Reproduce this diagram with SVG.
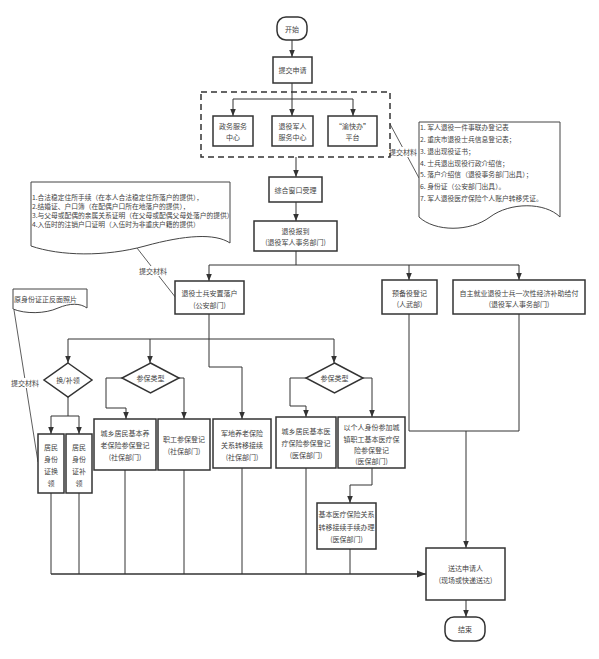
<svg xmlns="http://www.w3.org/2000/svg" width="599" height="659" viewBox="0 0 599 659">
<style>
.bx{fill:#fff;stroke:#333;stroke-width:1.5}
.dc{fill:#fff;stroke:#444;stroke-width:1}
.t{font-family:"Noto Sans CJK SC","Liberation Sans",sans-serif;font-size:7px;fill:#444;text-anchor:middle;dominant-baseline:central}
.ts{font-family:"Noto Sans CJK SC","Liberation Sans",sans-serif;font-size:6.8px;fill:#444;text-anchor:start;dominant-baseline:central}
.tl{font-size:6.75px}
.ln{fill:none;stroke:#333;stroke-width:1}
.lw{fill:none;stroke:#333;stroke-width:1.6}
.an{fill:none;stroke:#333;stroke-width:0.8}
</style>
<defs>
<marker id="a" viewBox="0 0 10 10" refX="10" refY="5" markerWidth="7" markerHeight="7" markerUnits="userSpaceOnUse" orient="auto"><path d="M0,1 L10,5 L0,9 z" fill="#333"/></marker>
<marker id="b" viewBox="0 0 10 10" refX="10" refY="5" markerWidth="9" markerHeight="9" markerUnits="userSpaceOnUse" orient="auto"><path d="M0,1 L10,5 L0,9 z" fill="#333"/></marker>
</defs>

<g id="connectors">
<path class="ln" d="M292,40 V57" marker-end="url(#a)"/>
<path class="ln" d="M292,83 V116" marker-end="url(#a)"/>
<path class="ln" d="M292,99 H233 V116" marker-end="url(#a)"/>
<path class="ln" d="M292,99 H353 V116" marker-end="url(#a)"/>
<path class="ln" d="M296,157 V177" marker-end="url(#a)"/>
<path class="ln" d="M296,202 V221" marker-end="url(#a)"/>
<path class="ln" d="M296,251 V265 H209 V281" marker-end="url(#a)"/>
<path class="ln" d="M296,265 H409 V280" marker-end="url(#a)"/>
<path class="ln" d="M409,265 H519 V280" marker-end="url(#a)"/>
<path class="ln" d="M209,314 V339 H68 V363" marker-end="url(#a)"/>
<path class="ln" d="M150,339 V363" marker-end="url(#a)"/>
<path class="ln" d="M209,339 H334 V363" marker-end="url(#a)"/>
<path class="ln" d="M209,339 V367 H242 V419" marker-end="url(#a)"/>
<path class="ln" d="M68,397 V416 H51 V434" marker-end="url(#a)"/>
<path class="ln" d="M68,416 H79 V434" marker-end="url(#a)"/>
<path class="ln" d="M122,378 H106 V408 H126 V419" marker-end="url(#a)"/>
<path class="ln" d="M179,378 H184 V419" marker-end="url(#a)"/>
<path class="ln" d="M306,378 H290 V406 H306 V417" marker-end="url(#a)"/>
<path class="ln" d="M363,378 H372 V417" marker-end="url(#a)"/>
<path class="ln" d="M372,468 V485 H350 V503" marker-end="url(#a)"/>
<path class="ln" d="M409,314 V431 H519 V314"/>
<path class="ln" d="M466,431 V548" marker-end="url(#a)"/>
<path class="ln" d="M51,493 V574 M79,493 V574 M125,470 V574 M184,470 V574 M242,468 V574 M306,468 V574 M350,549 V574"/>
<path class="lw" d="M51,574 H426" marker-end="url(#b)"/>
<path class="ln" d="M466,600 V617" marker-end="url(#a)"/>
<path class="an" d="M390,124 L419,178"/>
<path class="an" d="M137,248 L176,298"/>
<path class="an" d="M14,310 L38,462"/>
<rect x="389" y="147" width="29" height="10" fill="#fff"/>
<text class="t" x="403" y="152">提交材料</text>
<rect x="139" y="266" width="29" height="10" fill="#fff"/>
<text class="t" x="153" y="271">提交材料</text>
<rect x="11" y="378" width="29" height="10" fill="#fff"/>
<text class="t" x="25" y="383">提交材料</text>
</g>

<g id="start"><rect class="bx" x="277" y="17" width="30" height="23" rx="9"/><text class="t" x="292" y="28.5">开始</text></g>
<g id="submit"><rect class="bx" x="273" y="57" width="39" height="26"/><text class="t" x="292.5" y="70">提交申请</text></g>
<g id="channels"><rect x="201" y="92" width="189" height="65" fill="none" stroke="#333" stroke-width="1.5" stroke-dasharray="6,4"/></g>
<g id="gov"><rect class="bx" x="213" y="116" width="40" height="30"/><text class="t" x="233" y="126">政务服务</text><text class="t" x="233" y="137">中心</text></g>
<g id="vet"><rect class="bx" x="272" y="116" width="41" height="30"/><text class="t" x="292.5" y="126">退役军人</text><text class="t" x="292.5" y="137">服务中心</text></g>
<g id="ykb"><rect class="bx" x="328" y="116" width="49" height="30"/><text class="t" x="352.5" y="126">“渝快办”</text><text class="t" x="352.5" y="137">平台</text></g>
<g id="window"><rect class="bx" x="269" y="177" width="53" height="25"/><text class="t" x="295.5" y="189.5">综合窗口受理</text></g>
<g id="report"><rect class="bx" x="254" y="221" width="83" height="30"/><text class="t" x="295.5" y="231">退役报到</text><text class="t" x="295.5" y="242">(退役军人事务部门)</text></g>

<g id="doc-right"><path class="dc" d="M419,122 H560 V217 C545,202 510,202 490,217 C470,232 435,232 419,217 Z"/>
<text class="ts" x="420" y="127">1. 军人退役一件事联办登记表</text>
<text class="ts" x="420" y="139">2. 重庆市退役士兵信息登记表；</text>
<text class="ts" x="420" y="151">3. 退出现役证书；</text>
<text class="ts" x="420" y="162.5">4. 士兵退出现役行政介绍信；</text>
<text class="ts" x="420" y="174">5. 落户介绍信（退役事务部门出具）；</text>
<text class="ts" x="420" y="185.5">6. 身份证（公安部门出具）。</text>
<text class="ts" x="420" y="197.5">7. 军人退役医疗保险个人账户转移凭证。</text>
</g>
<g id="doc-left"><path class="dc" d="M31,182 H230 V243 C215,233 185,235 145,246 C105,257 60,256 31,246 Z"/>
<text class="ts tl" x="32" y="197">1.合法稳定住所手续（在本人合法稳定住所落户的提供），</text>
<text class="ts tl" x="32" y="206">2.结婚证、户口簿（在配偶户口所在地落户的提供），</text>
<text class="ts tl" x="32" y="215">3.与父母或配偶的亲属关系证明（在父母或配偶父母处落户的提供）</text>
<text class="ts tl" x="32" y="224">4.入伍时的注销户口证明（入伍时为非重庆户籍的提供）</text>
</g>
<g id="doc-id"><path class="dc" d="M13,289 H87 V308 C80,303 70,303 58,308 C45,314 25,314 13,309 Z"/><text class="ts" style="font-size:7px" x="14" y="299">原身份证正反面照片</text></g>

<g id="settle"><rect class="bx" x="175" y="281" width="69" height="33"/><text class="t" x="209.5" y="293">退役士兵安置落户</text><text class="t" x="209.5" y="304.5">(公安部门)</text></g>
<g id="reserve"><rect class="bx" x="382" y="280" width="55" height="34"/><text class="t" x="409.5" y="292.5">预备役登记</text><text class="t" x="409.5" y="304">(人武部)</text></g>
<g id="subsidy"><rect class="bx" x="453" y="280" width="132" height="34"/><text class="t" x="519" y="292.5">自主就业退役士兵一次性经济补助给付</text><text class="t" x="519" y="304">(退役军人事务部门)</text></g>

<g id="d-id"><polygon class="bx" points="68,363 92,380 68,397 44,380"/><text class="t" x="68" y="380">换/补领</text></g>
<g id="d-pension"><polygon class="bx" points="150.5,363 179,378 150.5,393 122,378"/><text class="t" x="150.5" y="378">参保类型</text></g>
<g id="d-medical"><polygon class="bx" points="334.5,363 363,378 334.5,393 306,378"/><text class="t" x="334.5" y="378">参保类型</text></g>

<g id="id-renew"><rect class="bx" x="38" y="434" width="26" height="59"/><text class="t" x="51" y="447">居民</text><text class="t" x="51" y="459">身份</text><text class="t" x="51" y="471">证换</text><text class="t" x="51" y="483">领</text></g>
<g id="id-reissue"><rect class="bx" x="66" y="434" width="26" height="59"/><text class="t" x="79" y="447">居民</text><text class="t" x="79" y="459">身份</text><text class="t" x="79" y="471">证补</text><text class="t" x="79" y="483">领</text></g>
<g id="p-resident"><rect class="bx" x="94" y="419" width="62" height="51"/><text class="t" x="125" y="433">城乡居民基本养</text><text class="t" x="125" y="445">老保险参保登记</text><text class="t" x="125" y="457">(社保部门)</text></g>
<g id="p-worker"><rect class="bx" x="158" y="419" width="52" height="51"/><text class="t" x="184" y="439">职工参保登记</text><text class="t" x="184" y="451">(社保部门)</text></g>
<g id="p-transfer"><rect class="bx" x="213" y="419" width="58" height="49"/><text class="t" x="242" y="433">军地养老保险</text><text class="t" x="242" y="445">关系转移接续</text><text class="t" x="242" y="457">(社保部门)</text></g>
<g id="m-resident"><rect class="bx" x="276" y="417" width="60" height="51"/><text class="t" x="306" y="431">城乡居民基本医</text><text class="t" x="306" y="443">疗保险参保登记</text><text class="t" x="306" y="455">(医保部门)</text></g>
<g id="m-worker"><rect class="bx" x="338" y="417" width="67" height="51"/><text class="t" x="371.5" y="427">以个人身份参加城</text><text class="t" x="371.5" y="438.5">镇职工基本医疗保</text><text class="t" x="371.5" y="450">险参保登记</text><text class="t" x="371.5" y="461">(医保部门)</text></g>
<g id="m-transfer"><rect class="bx" x="317" y="503" width="59" height="46"/><text class="t" x="346.5" y="514">基本医疗保险关系</text><text class="t" x="346.5" y="526.5">转移接续手续办理</text><text class="t" x="346.5" y="539">(医保部门)</text></g>
<g id="deliver"><rect class="bx" x="426" y="548" width="79" height="52"/><text class="t" x="465.5" y="568">送达申请人</text><text class="t" x="465.5" y="580">(现场或快递送达)</text></g>
<g id="end"><rect class="bx" x="445" y="617" width="40" height="24" rx="9"/><text class="t" x="465" y="629">结束</text></g>
</svg>
